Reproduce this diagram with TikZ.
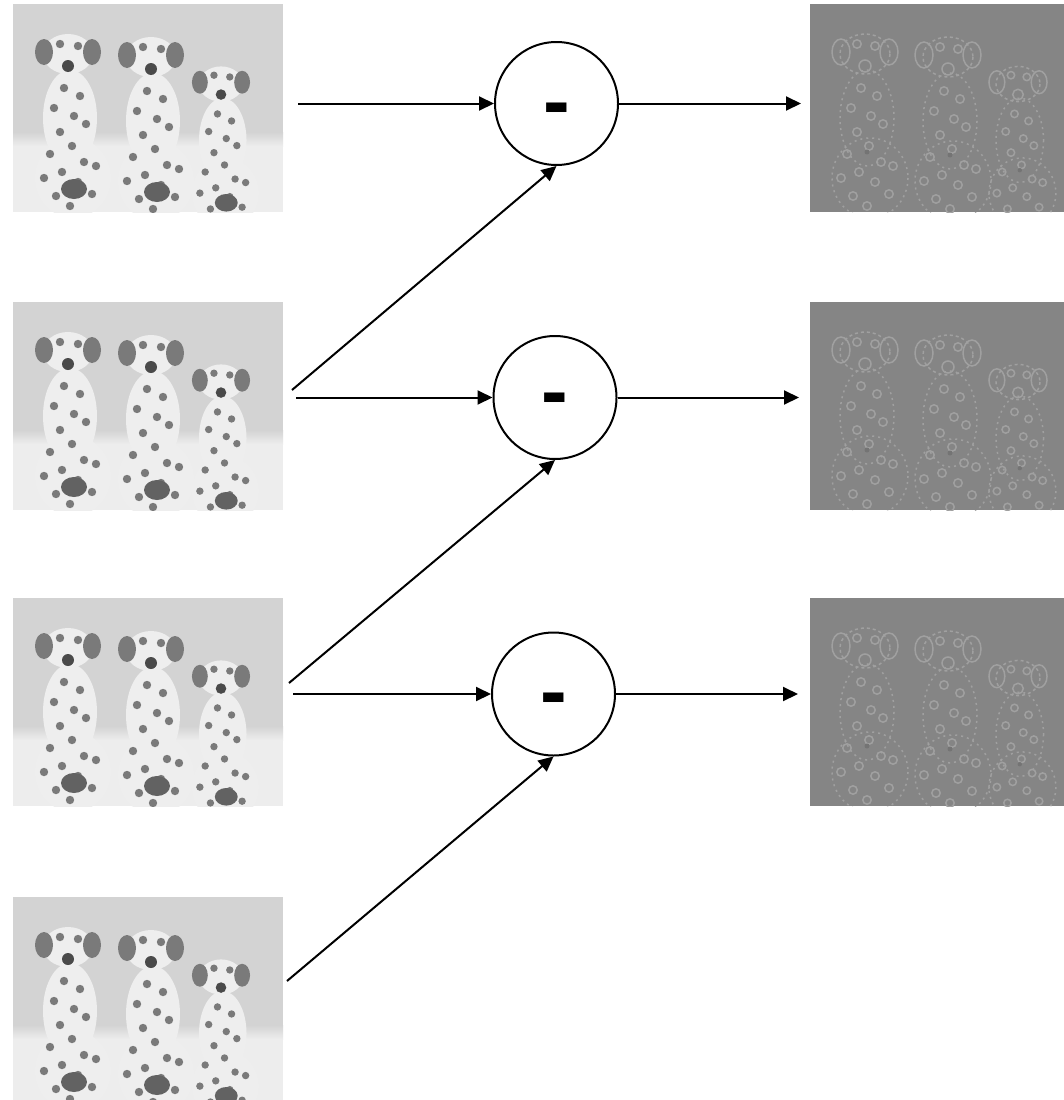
\documentclass[tikz,border=0pt]{standalone}
\usepackage{fontspec}
\setmainfont{Liberation Sans}
\usetikzlibrary{arrows.meta}
\definecolor{photobg}{HTML}{D3D3D3}
\definecolor{floorc}{HTML}{EDEDED}
\definecolor{dogc}{HTML}{EEEEEE}
\definecolor{spotc}{HTML}{7A7A7A}
\definecolor{nosec}{HTML}{4A4A4A}
\definecolor{diffbg}{HTML}{858585}
\definecolor{difflight}{HTML}{A0A0A0}
\definecolor{diffdark}{HTML}{747474}
\tikzset{
  imgbox/.style={minimum width=270pt, minimum height=208pt, inner sep=0pt, outer sep=0pt},
  opcircle/.style={circle, draw=black, line width=2pt, minimum size=123pt, inner sep=0pt, fill=white},
  minussign/.style={font=\fontsize{80}{80}\selectfont\bfseries, inner sep=0pt, anchor=base},
  conn/.style={-{Triangle[length=15pt,width=14pt]}, line width=2pt, black},
  photo/.pic={
    \begin{scope}
      \clip (0,0) rectangle (270,208);
      \fill[photobg] (0,0) rectangle (270,208);
      \shade[top color=photobg, bottom color=floorc] (0,128) rectangle (270,142);
      \fill[floorc] (0,142) rectangle (270,208);
      \foreach \cx/\hy/\s in {55/50/1, 138/53/1, 208/80/0.88} {
        \begin{scope}[shift={(\cx,\hy)}, scale=\s]
          \fill[dogc] (2,64) ellipse (27 and 48);
          \fill[dogc] (5,124) ellipse (38 and 40);
          \fill[dogc] (0,0) ellipse (25 and 20);
          \fill[spotc] (-24,-2) ellipse (9 and 13);
          \fill[spotc] (24,-2) ellipse (9 and 13);
          \fill[nosec] (0,12) circle (6);
          \foreach \px/\py in {-8/-10, 10/-8, -4/34, 12/42, -14/54, 6/62, 18/70, -8/78, 4/92, -18/100, 16/108, -6/118, 10/128, 24/140, -12/142, 2/152, 28/112, -24/124}
            \fill[spotc] (\px,\py) circle (4.2);
          \fill[spotc!80!black] (6,135) ellipse (13 and 10);
        \end{scope}
      }
    \end{scope}
  },
  diffimg/.pic={
    \begin{scope}
      \clip (0,0) rectangle (270,208);
      \fill[diffbg] (0,0) rectangle (270,208);
      \foreach \cx/\hy/\s in {55/50/1, 138/53/1, 208/80/0.88} {
        \begin{scope}[shift={(\cx,\hy)}, scale=\s, line width=1.5pt]
          \draw[difflight, dash pattern=on 2pt off 4pt] (2,64) ellipse (27 and 48);
          \draw[difflight, dash pattern=on 2pt off 4pt] (5,124) ellipse (38 and 40);
          \draw[difflight, dash pattern=on 3pt off 3pt] (0,0) ellipse (25 and 20);
          \draw[difflight] (-24,-2) ellipse (9 and 13);
          \draw[difflight] (24,-2) ellipse (9 and 13);
          \draw[difflight] (0,12) circle (6);
          \foreach \px/\py in {-8/-10, 10/-8, -4/34, 12/42, -14/54, 6/62, 18/70, -8/78, 4/92, -18/100, 16/108, -6/118, 10/128, 24/140, -12/142, 2/152, 28/112, -24/124}
            \draw[difflight] (\px,\py) circle (4.2);
          \fill[diffdark] (2,98) circle (2.5);
        \end{scope}
      }
    \end{scope}
  }
}
\begin{document}
\begin{tikzpicture}[x=1pt, y=-1pt]
  \useasboundingbox (0,0) rectangle (1064,1100);
  \fill[white] (0,0) rectangle (1064,1100);

  % input images
  \node[imgbox] (L1) at (148,108) {};
  \node[imgbox] (L2) at (148,406) {};
  \node[imgbox] (L3) at (148,702) {};
  \node[imgbox] (L4) at (148,1001) {};
  \pic at (L1.north west) {photo};
  \pic at (L2.north west) {photo};
  \pic at (L3.north west) {photo};
  \pic at (L4.north west) {photo};

  % output images
  \node[imgbox] (R1) at (945,108) {};
  \node[imgbox] (R2) at (945,406) {};
  \node[imgbox] (R3) at (945,702) {};
  \pic at (R1.north west) {diffimg};
  \pic at (R2.north west) {diffimg};
  \pic at (R3.north west) {diffimg};

  % subtraction circles
  \node[opcircle] (C1) at (556.5,103.5) {};
  \node[opcircle] (C2) at (555,397.5) {};
  \node[opcircle] (C3) at (553.5,694) {};
  \node[minussign] (M1) at ([yshift=-25pt]C1.center) {-};
  \node[minussign] (M2) at ([yshift=-21pt]C2.center) {-};
  \node[minussign] (M3) at ([yshift=-24pt]C3.center) {-};

  % free ends of connectors
  \coordinate (s1) at (298,103.5);
  \coordinate (d2) at (292,390);
  \coordinate (s2) at (296,397.5);
  \coordinate (d3) at (289,683);
  \coordinate (s3) at (293,694);
  \coordinate (d4) at (287,981);
  \coordinate (e1) at (801,103.5);
  \coordinate (e2) at (799,397.5);
  \coordinate (e3) at (798,694);

  \draw[conn] (s1) -- (C1.west);
  \draw[conn] (d2) -- (C1.south);
  \draw[conn] (s2) -- (C2.west);
  \draw[conn] (d3) -- (C2.south);
  \draw[conn] (s3) -- (C3.west);
  \draw[conn] (d4) -- (C3.south);
  \draw[conn] (C1.east) -- (e1);
  \draw[conn] (C2.east) -- (e2);
  \draw[conn] (C3.east) -- (e3);
\end{tikzpicture}
\end{document}
